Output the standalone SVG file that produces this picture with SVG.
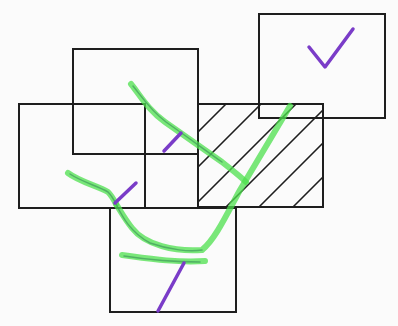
<svg xmlns="http://www.w3.org/2000/svg" width="398" height="326" viewBox="0 0 398 326">
<style>
.box{fill:none;stroke:#1e1e1e;stroke-width:2}
.hatch{stroke:#1e1e1e;stroke-width:1.6;fill:none}
.hl{fill:none;stroke:#4ee04e;stroke-opacity:0.75;stroke-width:6;stroke-linecap:round;stroke-linejoin:round}
.hlc{fill:none;stroke:#3f9a5a;stroke-opacity:0.7;stroke-width:1.5;stroke-linecap:round}
.pen{fill:none;stroke:#7a3cc8;stroke-width:3.5;stroke-linecap:round;stroke-linejoin:round}
</style>
<rect width="398" height="326" fill="#fbfbfb"/>
<g id="node-top-middle"><rect class="box" x="73" y="49" width="125" height="105"/></g>
<g id="node-left"><rect class="box" x="19" y="104" width="126" height="104"/></g>
<g id="node-top-right"><rect class="box" x="259" y="14" width="126" height="104"/></g>
<g id="node-hatched">
<rect class="box" x="198" y="104" width="125" height="103"/>
<path class="hatch" d="M198,132 L226,104 M198,167 L261,104 M198,202 L296,104 M226,207 L323,110 M259,207 L323,143 M293,207 L323,177"/>
</g>
<g id="node-bottom"><rect class="box" x="110" y="208" width="126" height="104"/></g>
<g id="strokes">
<path class="hl" d="M131,84 C140,95 148,110 165,122 C185,136 205,150 222,162 C232,170 240,176 246,182"/>
<path class="hl" d="M290,106 C270,140 255,165 240,190 C228,212 215,240 202,250 C175,252 145,245 132,228 C124,218 120,210 116,204"/>
<path class="hl" d="M68,173 C80,182 98,186 108,192 C112,196 114,200 116,204"/>
<path class="hl" d="M122,255 C145,258 175,263 205,261"/>
<path class="hlc" d="M133,86 C142,97 150,110 166,122 C186,136 205,150 222,162"/>
<path class="hlc" d="M70,174 C82,182 98,186 108,192 C112,196 114,200 116,204 C122,216 130,232 150,243 C170,250 190,252 202,250"/>
<path class="hlc" d="M124,256 C150,260 178,262 200,262"/>
<path class="pen" d="M164,151 L181,133"/>
<path class="pen" d="M115,203 L136,183"/>
<path class="pen" d="M158,311 L184,263"/>
<path class="pen" d="M309,47 L325,67 L353,29"/>
</g>
</svg>
